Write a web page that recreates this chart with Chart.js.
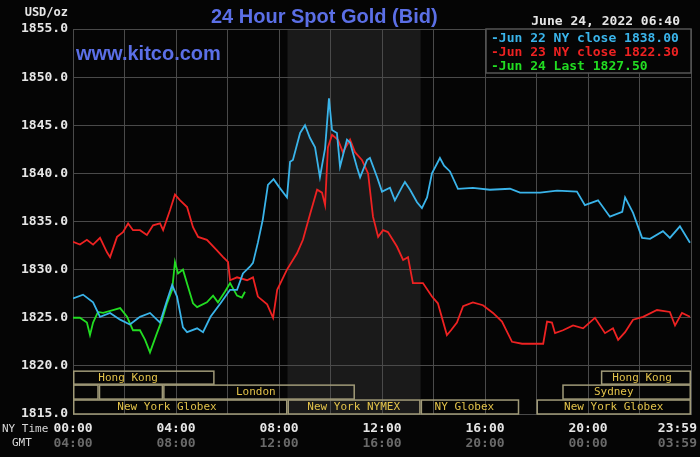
<!DOCTYPE html>
<html>
<head>
<meta charset="utf-8">
<script src="https://cdn.jsdelivr.net/npm/chart.js@4/dist/chart.umd.min.js"></script>
<style>
  html,body{margin:0;padding:0;background:#050505;}
  #wrap{width:700px;height:457px;position:relative;}
</style>
</head>
<body>
<div id="wrap"><canvas id="c" width="700" height="457"></canvas></div>
<script>
// ---- Data (hours since 00:00 NY time, price USD/oz) ----
const jun22Hours = [0,0.39,0.78,1.05,1.44,1.83,2.21,2.6,2.99,3.38,3.65,3.85,4.04,4.27,4.43,4.82,5.05,5.34,5.73,6.1,6.37,6.6,6.87,6.99,7.18,7.37,7.57,7.79,8.0,8.31,8.43,8.54,8.82,9.01,9.2,9.4,9.59,9.79,9.94,10.06,10.25,10.37,10.64,10.76,11.03,11.15,11.42,11.53,11.81,12.0,12.31,12.5,12.78,12.89,13.09,13.36,13.55,13.75,13.94,14.25,14.41,14.64,14.95,15.53,16.19,16.97,17.36,18.14,18.8,19.57,19.88,20.39,20.85,21.33,21.44,21.75,22.1,22.41,22.91,23.18,23.57,23.96];
const jun22Values = [1827.0,1827.4,1826.6,1825.1,1825.5,1824.8,1824.3,1825.1,1825.5,1824.5,1826.8,1828.4,1827.2,1824.0,1823.5,1823.9,1823.5,1825.1,1826.5,1827.9,1827.9,1829.6,1830.3,1830.7,1832.8,1835.2,1838.8,1839.4,1838.6,1837.5,1841.2,1841.4,1844.2,1845.0,1843.7,1842.7,1839.6,1842.6,1847.8,1844.5,1844.2,1840.7,1843.5,1843.2,1840.6,1839.6,1841.4,1841.6,1839.6,1838.1,1838.5,1837.2,1838.6,1839.1,1838.3,1837.0,1836.4,1837.5,1840.0,1841.6,1840.8,1840.2,1838.4,1838.5,1838.3,1838.4,1838.0,1838.0,1838.2,1838.1,1836.7,1837.2,1835.5,1836.0,1837.5,1835.9,1833.3,1833.2,1834.0,1833.3,1834.5,1832.8];

const jun23Hours = [0,0.27,0.54,0.78,1.05,1.32,1.44,1.71,1.94,2.14,2.33,2.6,2.87,3.11,3.38,3.5,3.77,3.96,4.16,4.43,4.66,4.86,5.2,5.59,5.83,6.02,6.1,6.37,6.76,6.99,7.18,7.54,7.77,7.93,8.31,8.7,8.93,9.2,9.48,9.67,9.79,9.9,10.06,10.29,10.48,10.76,10.95,11.22,11.46,11.65,11.85,12.04,12.23,12.58,12.82,13.01,13.2,13.59,13.94,14.17,14.52,14.68,14.91,15.15,15.53,15.92,16.31,16.66,17.05,17.44,17.86,18.26,18.41,18.6,18.72,19.03,19.42,19.81,20.27,20.66,20.97,21.17,21.44,21.75,22.14,22.68,23.18,23.38,23.65,23.96];
const jun23Values = [1832.9,1832.6,1833.1,1832.6,1833.3,1831.8,1831.3,1833.4,1833.9,1834.8,1834.1,1834.1,1833.6,1834.6,1834.8,1834.1,1836.2,1837.8,1837.2,1836.5,1834.4,1833.4,1833.1,1832.0,1831.3,1830.8,1828.9,1829.2,1828.9,1829.2,1827.2,1826.4,1825.0,1827.9,1830.0,1831.7,1833.1,1835.7,1838.3,1838.0,1836.7,1842.7,1844.0,1843.5,1842.2,1843.5,1842.2,1841.4,1840.0,1835.5,1833.4,1834.1,1833.9,1832.4,1831.0,1831.3,1828.6,1828.6,1827.2,1826.5,1823.2,1823.7,1824.5,1826.2,1826.6,1826.3,1825.5,1824.6,1822.5,1822.3,1822.3,1822.3,1824.6,1824.5,1823.4,1823.7,1824.2,1823.9,1825.0,1823.4,1823.9,1822.7,1823.5,1824.8,1825.1,1825.8,1825.6,1824.2,1825.5,1825.1];

const jun24Hours = [0,0.27,0.54,0.66,0.78,0.97,1.17,1.55,1.83,2.1,2.33,2.6,2.8,2.99,3.26,3.46,3.65,3.85,3.96,4.08,4.27,4.47,4.66,4.82,5.2,5.44,5.63,5.9,6.1,6.37,6.56,6.68];
const jun24Values = [1825.0,1825.0,1824.5,1823.2,1824.5,1825.6,1825.5,1825.8,1826.0,1825.1,1823.7,1823.7,1822.7,1821.4,1823.4,1824.8,1826.5,1827.9,1830.8,1829.6,1830.0,1828.2,1826.5,1826.1,1826.6,1827.3,1826.6,1827.7,1828.6,1827.3,1827.1,1827.7];

const seriesNames = ['Jun 22 NY close 1838.00','Jun 23 NY close 1822.30','Jun 24 Last 1827.50'];
const seriesColors = ['#3ab4ea','#ee2222','#22dd22'];

const yTicks = [1815,1820,1825,1830,1835,1840,1845,1850,1855];
const xTickHours = [0,4,8,12,16,20,24];
const nyTimeLabels = ['00:00','04:00','08:00','12:00','16:00','20:00','23:59'];
const gmtLabels = ['04:00','08:00','12:00','16:00','20:00','00:00','03:59'];

// Trading sessions: name, start hour, end hour, row (0 top), label centre hour
const sessionNames  = ['Hong Kong','Hong Kong','','','London','Sydney','New York Globex','New York NYMEX','NY Globex','New York Globex'];
const sessionStart  = [0,   20.5, 0,   1.0, 3.5,  19.0, 0,    8.33, 13.5,  18.0];
const sessionEnd    = [5.5, 24,   1.0, 3.5, 10.95,24,   8.33, 13.5, 17.33, 24];
const sessionRow    = [0,   0,    1,   1,   1,    1,    2,    2,    2,     2];
const sessionLabelAt= [2.14,22.1, 0,   0,   7.1,  21.0, 3.65, 10.9, 15.2,  21.0];
const rowTop    = [1819.45,1818.0,1816.45];
const rowBottom = [1818.1,1816.55,1815.0];

const nymexBand = [8.33, 13.5];

function pts(h, v){ return h.map((x,i)=>({x:x,y:v[i]})); }

const MONO = '"DejaVu Sans Mono", "Liberation Mono", monospace';

const decor = {
  id:'decor',
  beforeDraw(chart){
    const {ctx, chartArea:a, scales:{x,y}} = chart;
    ctx.save();
    ctx.fillStyle = '#050505';
    ctx.fillRect(0,0,chart.width,chart.height);
    // NYMEX shaded band
    ctx.fillStyle = '#1a1a1a';
    const x0 = x.getPixelForValue(nymexBand[0]), x1 = x.getPixelForValue(nymexBand[1]);
    ctx.fillRect(x0, a.top, x1-x0, a.bottom-a.top);
    ctx.restore();
  },
  afterDatasetsDraw(chart){
    const {ctx, chartArea:a, scales:{x,y}} = chart;
    ctx.save();
    // session boxes
    ctx.lineWidth = 1.5;
    ctx.strokeStyle = '#a09a78';
    ctx.font = '11px ' + MONO;
    ctx.textAlign = 'center';
    ctx.textBaseline = 'middle';
    for (let i=0;i<sessionNames.length;i++){
      const r = sessionRow[i];
      const xs = x.getPixelForValue(sessionStart[i]), xe = x.getPixelForValue(sessionEnd[i]);
      const yt = y.getPixelForValue(rowTop[r]), yb = y.getPixelForValue(rowBottom[r]);
      ctx.strokeRect(xs+0.75, yt, xe-xs-1.5, yb-yt);
      if (sessionNames[i]){
        ctx.fillStyle = '#e2c24a';
        ctx.fillText(sessionNames[i], x.getPixelForValue(sessionLabelAt[i]), (yt+yb)/2+0.5);
      }
    }
    ctx.restore();
  },
  afterDraw(chart){
    const {ctx, chartArea:a, scales:{x,y}} = chart;
    ctx.save();
    // titles
    ctx.textBaseline = 'alphabetic';
    ctx.fillStyle = '#5b6fe6';
    ctx.font = 'bold 20px "Liberation Sans", Arial, sans-serif';
    ctx.textAlign = 'left';
    ctx.fillText('24 Hour Spot Gold (Bid)', 211, 23);
    ctx.font = 'bold 20px "Liberation Sans", Arial, sans-serif';
    ctx.fillText('www.kitco.com', 76, 60);
    ctx.fillStyle = '#e6e6e6';
    ctx.font = 'bold 13px ' + MONO;
    ctx.textAlign = 'right';
    ctx.fillText('June 24, 2022 06:40', 680, 25);
    ctx.font = 'bold 12px ' + MONO;
    ctx.fillText('USD/oz', 68, 16);
    // legend box
    ctx.strokeStyle = '#555';
    ctx.lineWidth = 1.5;
    ctx.fillStyle = '#050505';
    ctx.fillRect(486, a.top, a.right-486, 44);
    ctx.strokeRect(486, a.top, a.right-486, 44);
    ctx.textAlign = 'left';
    ctx.font = 'bold 13px ' + MONO;
    chart.data.datasets.forEach((ds,i)=>{
      ctx.fillStyle = ds.borderColor;
      ctx.fillText('-' + ds.label, 491, a.top + 13 + i*14);
    });
    // x labels
    ctx.textAlign = 'center';
    xTickHours.forEach((h,i)=>{
      let px = x.getPixelForValue(h);
      ctx.font = 'bold 13px ' + MONO;
      const w = ctx.measureText(nyTimeLabels[i]).width;
      if (px + w/2 > 697) px = 697 - w/2;
      ctx.fillStyle = '#e6e6e6';
      ctx.fillText(nyTimeLabels[i], px, 432);
      ctx.fillStyle = '#6a6a6a';
      ctx.fillText(gmtLabels[i], px, 447);
    });
    ctx.fillStyle = '#d8d8d8';
    ctx.font = '11px ' + MONO;
    ctx.textAlign = 'left';
    ctx.fillText('NY Time', 2, 432);
    ctx.fillText('GMT', 12, 446);
    ctx.restore();
  }
};

new Chart(document.getElementById('c'), {
  type:'line',
  data:{
    datasets:[
      {label:seriesNames[0], data:pts(jun22Hours,jun22Values), borderColor:seriesColors[0]},
      {label:seriesNames[1], data:pts(jun23Hours,jun23Values), borderColor:seriesColors[1]},
      {label:seriesNames[2], data:pts(jun24Hours,jun24Values), borderColor:seriesColors[2]}
    ].map(d=>Object.assign(d,{borderWidth:1.8,pointRadius:0,tension:0,fill:false}))
  },
  options:{
    responsive:false,
    animation:false,
    devicePixelRatio:1,
    layout:{padding:{top:29,right:9,left:0,bottom:0}},
    plugins:{legend:{display:false},tooltip:{enabled:false}},
    scales:{
      x:{
        type:'linear', min:0, max:24,
        ticks:{display:false, stepSize:2},
        grid:{color:'#4a4a4a', lineWidth:1, drawTicks:false},
        border:{color:'#4a4a4a'},
        afterFit(s){ s.height = 43; }
      },
      y:{
        type:'linear', min:1815, max:1855,
        afterBuildTicks(s){ s.ticks = yTicks.map(v=>({value:v})); },
        ticks:{color:'#e6e6e6', font:{family:MONO, size:13, weight:'bold'}, padding:5,
               callback:v=>v.toFixed(1)},
        grid:{color:'#4a4a4a', lineWidth:1, drawTicks:false},
        border:{color:'#4a4a4a'},
        afterFit(s){ s.width = 73; }
      }
    }
  },
  plugins:[decor]
});
</script>
</body>
</html>
